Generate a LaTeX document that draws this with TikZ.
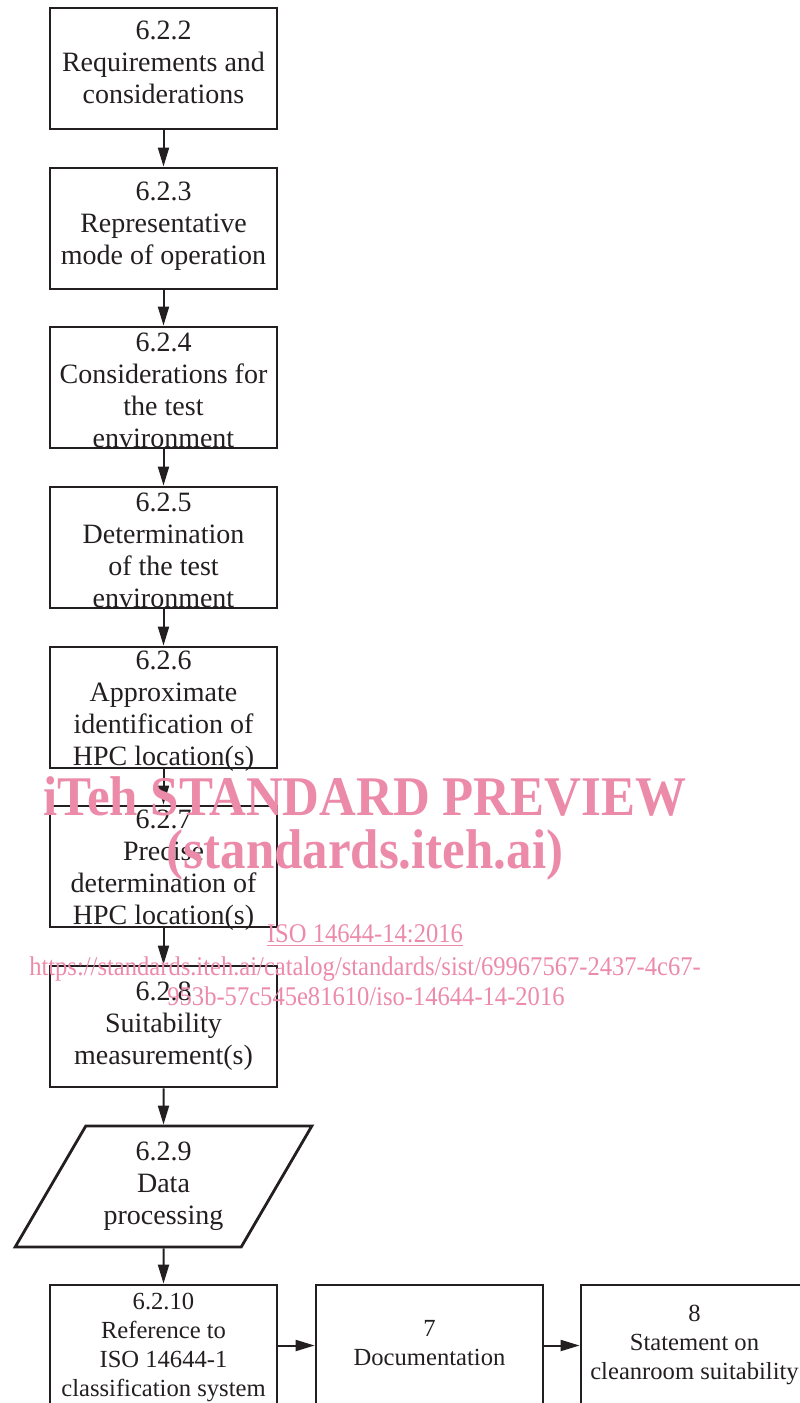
\documentclass[tikz,border=0pt]{standalone}
\usepackage{fontspec}
\setmainfont{Liberation Serif}
\usepackage{tikz}
\usetikzlibrary{arrows.meta}
\usetikzlibrary{shapes.geometric}

\definecolor{wmpink}{RGB}{236,138,170}
\definecolor{ink}{RGB}{35,31,32}

\tikzset{
  stage/.style={draw=ink, line width=1.4pt, minimum width=113.5pt, minimum height=60.5pt, inner sep=0pt},
  stagetext/.style={align=center, text=ink, font=\fontsize{14}{16}\selectfont, inner sep=0pt},
  smalltext/.style={align=center, text=ink, font=\fontsize{12.3}{14.5}\selectfont, inner sep=0pt},
  flow/.style={-{Stealth[length=9.5pt, width=5.5pt, inset=0pt]}, draw=ink, line width=1pt},
  wmark/.style={text=wmpink, inner sep=0pt, xscale=0.91}
}

\begin{document}
\begin{tikzpicture}[x=0.5pt, y=-0.5pt]
\useasboundingbox (0,0) rectangle (799,1403);

% main column
\node[stage] (b2) at (163.5,68.5) {};
\node[stagetext] (b2t) at (163.5,62.5) {6.2.2\\Requirements and\\considerations};
\node[stage] (b3) at (163.5,228.5) {};
\node[stagetext] (b3t) at (163.5,226) {6.2.3\\Representative\\mode of operation};
\node[stage] (b4) at (163.5,387.5) {};
\node[stagetext] (b4t) at (163.5,390) {6.2.4\\Considerations for\\the test\\environment};
\node[stage] (b5) at (163.5,547.5) {};
\node[stagetext] (b5t) at (163.5,550.5) {6.2.5\\Determination\\of the test\\environment};
\node[stage] (b6) at (163.5,707.5) {};
\node[stagetext] (b6t) at (163.5,711) {6.2.6\\Approximate\\identification of\\HPC location(s)};
\node[stage] (b7) at (163.5,866.5) {};
\node[stagetext] (b7t) at (163.5,870) {6.2.7\\Precise\\determination of\\HPC location(s)};
\node[stage] (b8) at (163.5,1026.5) {};
\node[stagetext] (b8t) at (163.5,1026.5) {6.2.8\\Suitability\\measurement(s)};

% data processing
\node[trapezium, trapezium stretches=true, trapezium left angle=59, trapezium right angle=121,
      draw=ink, line width=1.4pt, minimum width=148.5pt, minimum height=60.5pt, inner sep=2pt,
      align=center, text=ink, font=\fontsize{14}{16}\selectfont]
      (b9) at (163.5,1186.5) {6.2.9\\Data\\processing};

% bottom row
\node[stage] (b10) at (163.5,1345.5) {};
\node[smalltext] (b10t) at (163.5,1347.5) {6.2.10\\Reference to\\ISO 14644-1\\classification system};
\node[stage] (doc) at (429.5,1345.5) {};
\node[smalltext] (doct) at (429.5,1343) {7\\Documentation};
\node[stage] (stm) at (694.5,1345.5) {};
\node[smalltext] (stmt) at (694.5,1344.5) {8\\Statement on\\cleanroom suitability};

\draw[flow] (b2.south) -- (b3.north);
\draw[flow] (b3.south) -- (b4.north);
\draw[flow] (b4.south) -- (b5.north);
\draw[flow] (b5.south) -- (b6.north);
\draw[flow] (b6.south) -- (b7.north);
\draw[flow] (b7.south) -- (b8.north);
\draw[flow] (b8.south) -- (b9.north);
\draw[flow] (b9.south) -- (b10.north);
\draw[flow] (b10.east) -- (doc.west);
\draw[flow] (doc.east) -- (stm.west);

% watermark
\node[wmark, font=\bfseries\fontsize{28}{30}\selectfont, anchor=base] (wm1) at (365,815) {iTeh STANDARD PREVIEW};
\node[wmark, font=\bfseries\fontsize{28}{30}\selectfont, anchor=base] (wm2) at (365,868) {(standards.iteh.ai)};
\node[wmark, font=\fontsize{13.5}{15}\selectfont, anchor=base] (wm3) at (365,942) {\underline{ISO 14644-14:2016}};
\node[wmark, font=\fontsize{13.5}{15}\selectfont, anchor=base] (wm4) at (365,975) {https://standards.iteh.ai/catalog/standards/sist/69967567-2437-4c67-};
\node[wmark, font=\fontsize{13.5}{15}\selectfont, anchor=base] (wm5) at (366,1005) {953b-57c545e81610/iso-14644-14-2016};
\end{tikzpicture}
\end{document}
